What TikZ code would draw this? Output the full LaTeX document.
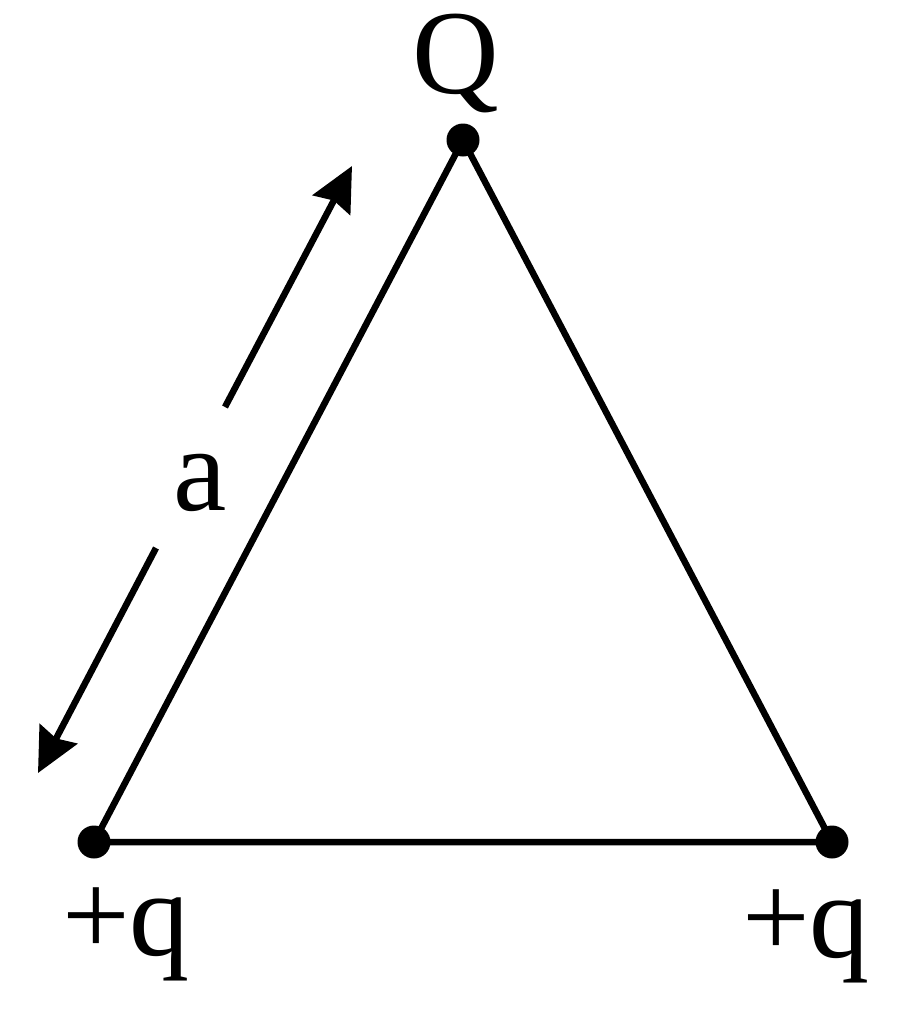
\documentclass[tikz,border=0pt]{standalone}
\usepackage{fontspec}
\setmainfont{Liberation Serif}
\usetikzlibrary{arrows.meta}
\begin{document}
\begin{tikzpicture}[x=1pt,y=-1pt,
  edge/.style={line width=6.5pt},
  charge/.style={circle,fill=black,inner sep=0pt,minimum size=33pt},
  lbl/.style={anchor=base,inner sep=0pt,text height=0.68em,font=\fontsize{120}{130}\selectfont},
  dimarrow/.style={line width=6.5pt,-{Stealth[length=44pt,width=42pt,inset=5pt]}}]
\useasboundingbox (0,0) rectangle (900,1021);
\node[charge] (Q) at (463,140) {};
\node[charge] (A) at (94,842) {};
\node[charge] (B) at (832,842) {};
\draw[edge] (A.center) -- (Q.center) -- (B.center) -- cycle;
\node[lbl] (lQ) at (456,93) {Q};
\node[lbl] (lA) at (126,955) {+q};
\node[lbl] (lB) at (806,957) {+q};
\node[lbl] (la) at (200,510) {a};
\coordinate (u1) at (225,407);
\coordinate (u2) at (352,166);
\coordinate (d1) at (156,548);
\coordinate (d2) at (38,773);
\draw[dimarrow] (u1) -- (u2);
\draw[dimarrow] (d1) -- (d2);
\end{tikzpicture}
\end{document}
